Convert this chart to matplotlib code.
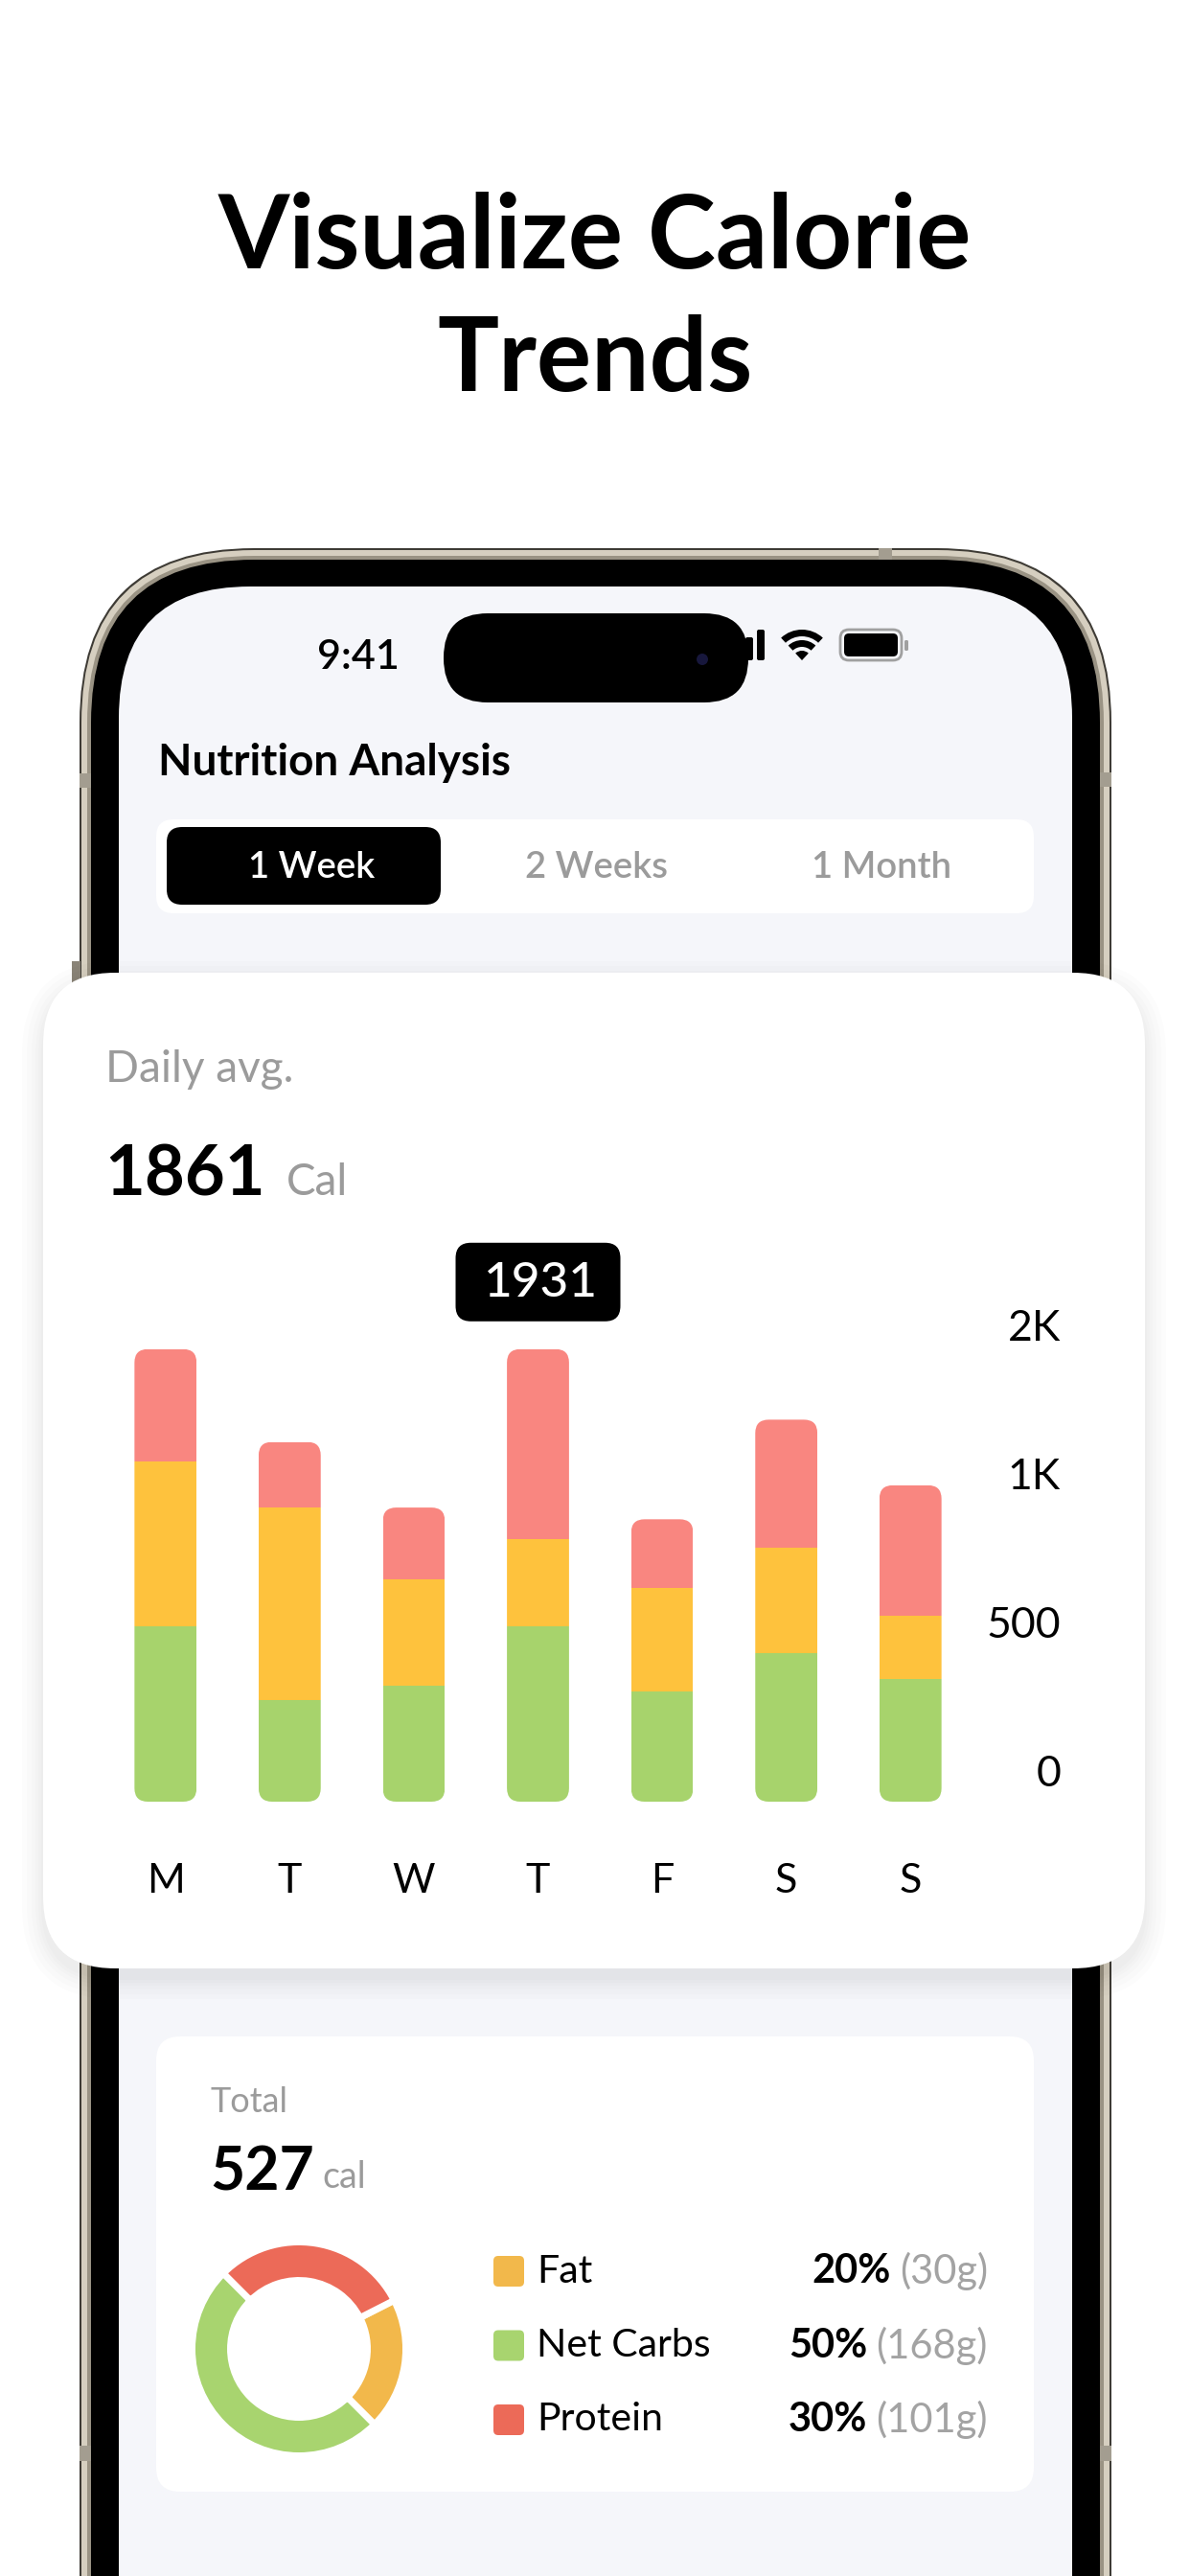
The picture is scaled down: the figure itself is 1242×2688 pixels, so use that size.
import numpy as np
import matplotlib
matplotlib.use("Agg")
import matplotlib.pyplot as plt
from matplotlib.patches import FancyBboxPatch, Circle, Wedge, Rectangle
from matplotlib.transforms import blended_transform_factory

plt.rcParams['font.family'] = ['Lato', 'DejaVu Sans']

W, H = 1242, 2688

# ---- data ----
days = ["M", "T", "W", "T", "F", "S", "S"]
carbs_cal = [750, 435, 495, 750, 470, 635, 525]
fat_cal = [700, 820, 455, 370, 440, 450, 270]
protein_cal = [481, 280, 305, 811, 295, 545, 555]
highlight_day = 3
ytick_labels = ["0", "500", "1K", "2K"]
ytick_pos = [115, 749, 1383, 2017]
daily_avg = 1861

periods = ["1 Week", "2 Weeks", "1 Month"]

macro_names = ["Fat", "Net Carbs", "Protein"]
macro_pct = [20, 50, 30]
macro_grams = [30, 168, 101]
total_cal = 527

bar_colors = ["#a7d36c", "#fec23d", "#f98680"]      # carbs, fat, protein
donut_colors = ["#f2b84b", "#a8d46f", "#ec6a58"]    # fat, carbs, protein
GRAY = "#9b9b9b"

fig = plt.figure(figsize=(W / 100, H / 100), dpi=100)
fig.patch.set_facecolor("white")

bg = fig.add_axes([0, 0, 1, 1])
bg.set_xlim(0, W)
bg.set_ylim(H, 0)
bg.axis("off")


def rrect(x0, y0, x1, y1, r, **kw):
    p = FancyBboxPatch((x0, y0), x1 - x0, y1 - y0,
                       boxstyle=f"round,pad=0,rounding_size={r}",
                       linewidth=kw.pop("lw", 0), **kw)
    bg.add_patch(p)
    return p


# title
bg.text(W / 2, 280, "Visualize Calorie", ha="center", va="baseline",
        fontsize=77, fontweight="bold")
bg.text(W / 2, 408, "Trends", ha="center", va="baseline",
        fontsize=77, fontweight="bold")

# phone frame
rrect(83, 572, 1160, 2990, 182, fc="#3e3b35")
rrect(85, 574, 1158, 2990, 180, fc="#d6cfc0")
rrect(91, 580, 1152, 2990, 174, fc="#9a9384")
rrect(95, 584, 1148, 2990, 170, fc="black")
rrect(124, 612, 1119, 2990, 137, fc="#f5f6fa")
for (x0, y0, w, h) in [(917, 572, 14, 12), (83, 807, 12, 15), (1148, 806, 12, 15),
                       (83, 2552, 12, 16), (1148, 2552, 12, 16)]:
    bg.add_patch(Rectangle((x0, y0), w, h, fc="#a39d90", lw=0))
bg.add_patch(Rectangle((75, 1003), 9, 30, fc="#8a8478", lw=0))

# status bar
bg.text(374, 698, "9:41", ha="center", va="baseline", fontsize=31, fontweight="semibold")
for bx, bh in zip([754, 766, 778, 790], [12, 18, 24, 32]):
    rrect(bx, 689 - bh, bx + 8, 689, 2, fc="black")
rrect(463, 640, 781, 733, 46, fc="black")
bg.add_patch(Circle((733, 688), 6, fc="#17173c", lw=0))
bg.add_patch(Wedge((837, 689), 32, -133, -47, width=7, fc="black", lw=0))
bg.add_patch(Wedge((837, 689), 21, -133, -47, width=7, fc="black", lw=0))
bg.add_patch(Wedge((837, 689), 10, -133, -47, fc="black", lw=0))
rrect(877, 657, 941, 689, 9, fc="none", ec="#a0a0a0", lw=2)
rrect(881, 661, 937, 685, 5, fc="black")
rrect(944, 668, 948, 679, 1.5, fc="#a0a0a0")

# header + period selector
bg.text(165, 809, "Nutrition Analysis", ha="left", va="baseline",
        fontsize=33, fontweight="bold")
rrect(163, 855, 1079, 953, 18, fc="white")
rrect(174, 863, 460, 944, 16, fc="black")
for i, (label, cx) in enumerate(zip(periods, [325, 622, 920])):
    bg.text(cx, 916, label, ha="center", va="baseline", fontsize=27.5,
            fontweight="semibold", color="white" if i == 0 else GRAY)

# main card with soft shadow
for s in [22, 17, 12, 8, 5, 2]:
    rrect(45 - s, 1015 - s + 10, 1195 + s, 2054 + s + 10, 75 + s, fc="black", alpha=0.012)
rrect(45, 1015, 1195, 2054, 75, fc="white")

renderer = fig.canvas.get_renderer()
bg.text(110, 1129, "Daily avg.", ha="left", va="baseline", fontsize=33, color=GRAY)
t_avg = bg.text(109, 1247, str(daily_avg), ha="left", va="baseline",
                fontsize=52, fontweight="bold")
x_after = t_avg.get_window_extent(renderer).x1
bg.text(x_after + 22, 1247, "Cal", ha="left", va="baseline", fontsize=33, color=GRAY)

# ---- stacked bar chart ----
ax = fig.add_axes([95 / W, (H - 1880) / H, (1028 - 95) / W, 538 / H])
ax.set_xlim(-0.6, 6.6)
ax.set_ylim(0, 2200)
ax.axis("off")

x = np.arange(len(days))
carbs = np.array(carbs_cal)
fat = np.array(fat_cal)
protein = np.array(protein_cal)
totals = carbs + fat + protein
bw = 0.5

stacks = [
    ax.bar(x, carbs, bw, color=bar_colors[0], linewidth=0),
    ax.bar(x, fat, bw, bottom=carbs, color=bar_colors[1], linewidth=0),
    ax.bar(x, protein, bw, bottom=carbs + fat, color=bar_colors[2], linewidth=0),
]

# rounded clip per bar
px_x = ax.transData.transform((1, 0))[0] - ax.transData.transform((0, 0))[0]
px_y = (ax.transData.transform((0, 1000))[1] - ax.transData.transform((0, 0))[1]) / 1000
r_px = 14
rx = r_px / px_x
ry = r_px / px_y
for i in range(len(days)):
    clip = FancyBboxPatch((x[i] - bw / 2, 0), bw, totals[i],
                          boxstyle=f"round,pad=0,rounding_size={rx}",
                          mutation_aspect=ry / rx, transform=ax.transData,
                          fc="none", ec="none")
    for bars in stacks:
        bars[i].set_clip_path(clip)

xt = ax.get_xaxis_transform()
for i, d in enumerate(days):
    ax.text(x[i], -0.1775, d, transform=xt, ha="center", va="baseline", fontsize=31)

yt = blended_transform_factory(ax.transAxes, ax.transData)
for pos, lab in zip(ytick_pos, ytick_labels):
    ax.text(1.0847, pos, lab, transform=yt, ha="right", va="center", fontsize=32)

# tooltip over the highlighted bar
tx, ty = ax.transData.transform((x[highlight_day], totals[highlight_day]))
ty = H - ty
cy = ty - 70
rrect(tx - 86, cy - 41, tx + 86, cy + 41, 16, fc="black")
bg.text(tx + 3, cy + 1, str(totals[highlight_day]), ha="center", va="center",
        color="white", fontsize=37, fontweight="medium")

# ---- macro card ----
rrect(163, 2125, 1079, 2600, 25, fc="white")
bg.text(219, 2204, "Total", ha="left", va="baseline", fontsize=26, color=GRAY)
t_tot = bg.text(219, 2285, str(total_cal), ha="left", va="baseline",
                fontsize=45, fontweight="bold")
x_after = t_tot.get_window_extent(renderer).x1
bg.text(x_after + 9, 2283, "cal", ha="left", va="baseline", fontsize=27, color=GRAY)

R_out, R_in = 111.5, 71.5
dcx, dcy = 312, 2451
dax = fig.add_axes([(dcx - R_out) / W, (H - dcy - R_out) / H, 2 * R_out / W, 2 * R_out / H])
dax.pie(macro_pct, colors=donut_colors, startangle=27, counterclock=False, radius=1,
        wedgeprops=dict(width=(R_out - R_in) / R_out, edgecolor="white", linewidth=5))
dax.set_xlim(-1, 1)
dax.set_ylim(-1, 1)
dax.axis("off")

for i, name in enumerate(macro_names):
    ry_row = 2370 + i * 77.5
    rrect(515, ry_row - 16, 547, ry_row + 16, 5, fc=donut_colors[i])
    bg.text(560, ry_row, name, ha="left", va="center", fontsize=29.5)
    tg = bg.text(1031, ry_row, f"({macro_grams[i]}g)", ha="right", va="center",
                 fontsize=30, color="#a3a3a3")
    gx = tg.get_window_extent(renderer).x0
    bg.text(gx - 9, ry_row, f"{macro_pct[i]}%", ha="right", va="center",
            fontsize=30, fontweight="bold")

fig.savefig("out.png", dpi=100, facecolor="white")
